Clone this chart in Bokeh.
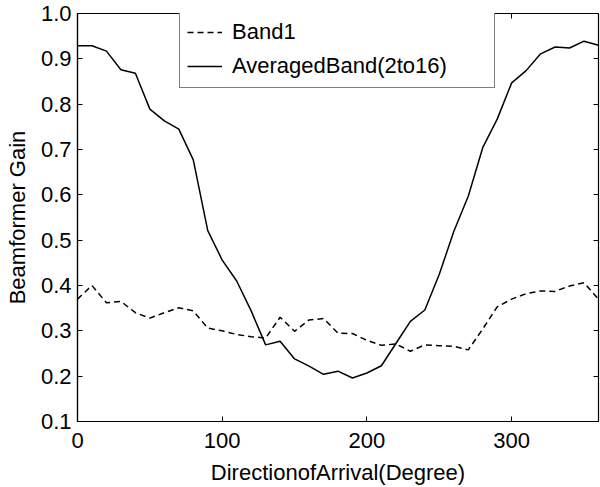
from bokeh.plotting import figure
from bokeh.models import Legend, LegendItem, LinearAxis, FixedTicker, Range1d
from bokeh.embed import file_html
from bokeh.resources import INLINE

# Data
angles = [0, 10, 20, 30, 40, 50, 60, 70, 80, 90, 100, 110, 120, 130, 140, 150, 160, 170, 180,
          190, 200, 210, 220, 230, 240, 250, 260, 270, 280, 290, 300, 310, 320, 330, 340, 350, 360]
band1 = [0.370, 0.400, 0.362, 0.365, 0.340, 0.328, 0.340, 0.351, 0.344, 0.306, 0.300, 0.292,
         0.287, 0.284, 0.330, 0.299, 0.324, 0.327, 0.295, 0.294, 0.279, 0.268, 0.271, 0.255,
         0.269, 0.267, 0.266, 0.258, 0.304, 0.353, 0.370, 0.382, 0.388, 0.387, 0.399, 0.406, 0.370]
averaged = [0.929, 0.929, 0.917, 0.876, 0.868, 0.789, 0.763, 0.745, 0.677, 0.521, 0.456, 0.410,
            0.344, 0.269, 0.277, 0.238, 0.222, 0.204, 0.211, 0.196, 0.207, 0.223, 0.272, 0.321,
            0.346, 0.425, 0.519, 0.597, 0.704, 0.767, 0.847, 0.874, 0.911, 0.926, 0.924, 0.939, 0.930]

x_ticks = [0, 100, 200, 300]
x_tick_labels = ["0", "100", "200", "300"]
y_ticks = [0.1, 0.2, 0.3, 0.4, 0.5, 0.6, 0.7, 0.8, 0.9, 1.0]
y_tick_labels = ["0.1", "0.2", "0.3", "0.4", "0.5", "0.6", "0.7", "0.8", "0.9", "1.0"]

legend_labels = ["Band1", "AveragedBand(2to16)"]
x_label = "DirectionofArrival(Degree)"
y_label = "Beamformer Gain"

FONT = "Liberation Sans"

p = figure(width=600, height=487, output_backend="svg", toolbar_location=None,
           x_range=Range1d(0, 360), y_range=Range1d(0.1, 1.0),
           x_axis_label=x_label, y_axis_label=y_label)
p.min_border_left = 77
p.min_border_right = 2
p.min_border_top = 13
p.min_border_bottom = 65
p.background_fill_color = "white"
p.border_fill_color = "white"
p.xgrid.visible = False
p.ygrid.visible = False
p.outline_line_color = "black"
p.outline_line_width = 1.2

def style_main(ax, ticks, labels):
    ax.ticker = FixedTicker(ticks=ticks)
    ax.major_label_overrides = {t: l for t, l in zip(ticks, labels)}
    ax.minor_tick_line_color = None
    ax.major_tick_in = 5
    ax.major_tick_out = 0
    ax.axis_line_color = "black"
    ax.axis_line_width = 1.2
    ax.major_tick_line_color = "black"
    ax.major_label_text_font = FONT
    ax.major_label_text_font_size = "22px"
    ax.major_label_text_color = "black"
    ax.axis_label_text_font = FONT
    ax.axis_label_text_font_size = "22px"
    ax.axis_label_text_font_style = "normal"
    ax.axis_label_text_color = "black"

style_main(p.xaxis[0], x_ticks, x_tick_labels)
style_main(p.yaxis[0], y_ticks, y_tick_labels)
p.xaxis[0].major_label_standoff = 11
p.xaxis[0].axis_label_standoff = 9
p.yaxis[0].major_label_standoff = 6
p.yaxis[0].axis_label_standoff = 8

for side, ticks in (("right", y_ticks), ("above", x_ticks)):
    ax = LinearAxis(ticker=FixedTicker(ticks=ticks))
    ax.major_label_overrides = {t: "" for t in ticks}
    ax.major_label_text_font_size = "1px"
    ax.major_label_standoff = 0
    ax.minor_tick_line_color = None
    ax.major_tick_in = 5
    ax.major_tick_out = 0
    ax.axis_line_color = None
    ax.major_tick_line_color = "black"
    p.add_layout(ax, side)

r1 = p.line(angles, band1, line_color="black", line_width=1.5, line_dash="6 4")
r2 = p.line(angles, averaged, line_color="black", line_width=1.5)

legend = Legend(items=[LegendItem(label=legend_labels[0], renderers=[r1]),
                       LegendItem(label=legend_labels[1], renderers=[r2])],
                location=(102, 333))
legend.border_line_color = "black"
legend.border_line_width = 1.2
legend.background_fill_color = "white"
legend.background_fill_alpha = 1.0
legend.label_text_font = FONT
legend.label_text_font_size = "22px"
legend.label_text_color = "black"
legend.glyph_width = 35
legend.glyph_height = 28
legend.label_height = 28
legend.label_standoff = 10
legend.label_width = 255
legend.padding = 7
legend.spacing = 6
legend.margin = 0
p.add_layout(legend, "center")

open("out.html", "w").write(file_html(p, INLINE))
